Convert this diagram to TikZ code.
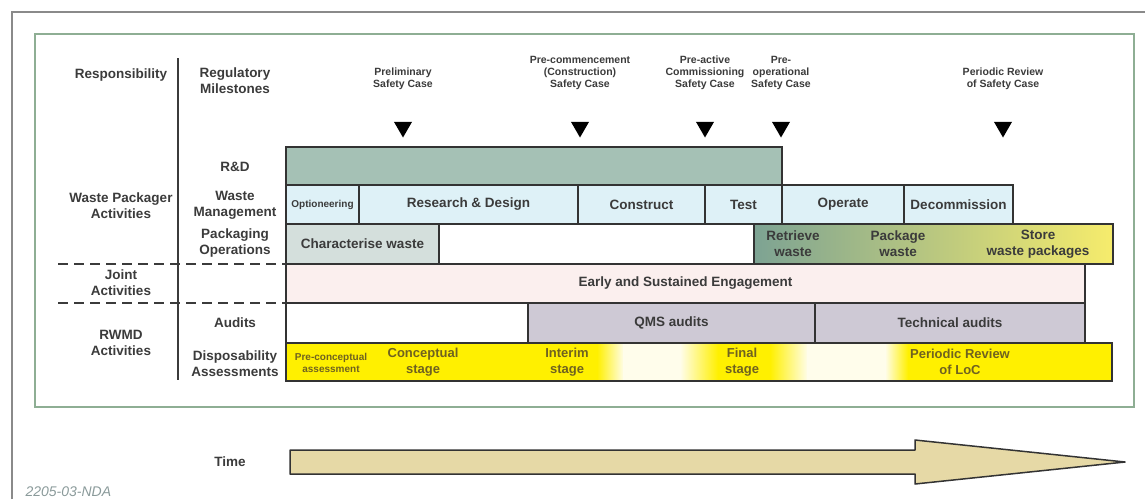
\documentclass[tikz,border=0pt]{standalone}
\usepackage{fontspec}
\setmainfont{Liberation Sans}
\usetikzlibrary{shapes.geometric}

\definecolor{ink}{HTML}{3B3B3B}
\definecolor{edge}{HTML}{333333}
\definecolor{rdgreen}{HTML}{A5C1B5}
\definecolor{mgmtblue}{HTML}{DEF1F7}
\definecolor{charfill}{HTML}{D4DFDC}
\definecolor{retrgreen}{HTML}{7DA393}
\definecolor{packgreen}{HTML}{BDCB8D}
\definecolor{storeyellow}{HTML}{F6EC6C}
\definecolor{jointpink}{HTML}{FBEFEE}
\definecolor{qmsgray}{HTML}{CEC9D5}
\definecolor{dispyellow}{HTML}{FFF000}
\definecolor{cream}{HTML}{FFFDEB}
\definecolor{stagebrown}{HTML}{6F6220}
\definecolor{arrowtan}{HTML}{E6D9A6}
\definecolor{framegreen}{HTML}{8EAE94}
\definecolor{framegray}{HTML}{8A8A8A}
\definecolor{codegray}{HTML}{8A9A9A}

\begin{document}
\begin{tikzpicture}[x=1pt,y=-1pt,
  lbl/.style={font=\fontsize{13.5}{16}\selectfont\bfseries,text=ink,align=center},
  milestone/.style={font=\fontsize{10.5}{12}\selectfont\bfseries,text=ink,align=center,anchor=south},
  marker/.style={regular polygon,regular polygon sides=3,shape border rotate=180,fill=black,inner sep=0pt,minimum size=21pt},
  bar/.style={draw=edge,line width=1.4pt,inner sep=0pt,outer sep=0pt,anchor=north west,align=center,
    font=\fontsize{13.5}{16}\selectfont\bfseries,text=ink},
  stage/.style={font=\fontsize{13}{16}\selectfont\bfseries,text=stagebrown,align=center},
  split/.style={draw=ink,line width=1.5pt,dash pattern=on 10pt off 6pt}]
\useasboundingbox (0,0) rectangle (1145,499);

% frames
\draw[framegray,line width=2pt] (12,499) -- (12,12) -- (1145,12);
\draw[framegreen,line width=2pt] (35,34) rectangle (1134,407);

% column headings
\node[lbl] (resp) at (121,75) {Responsibility};
\node[lbl] (regms) at (235,81) {Regulatory\\Milestones};
\coordinate (divtop) at (178,58);
\coordinate (divbot) at (178,380);
\draw[ink,line width=1.5pt] (divtop) -- (divbot);

% milestones
\foreach \nm/\xx/\txt in {prelim/403/Preliminary\\Safety Case,
    precom/580/Pre-commencement\\(Construction)\\Safety Case,
    preact/705/Pre-active\\Commissioning\\Safety Case,
    preop/781/Pre-\\operational\\Safety Case,
    review/1003/Periodic Review\\of Safety Case}
  { \node[milestone] (\nm) at (\xx,93) {\txt};
    \node[marker] (\nm-tri) at (\xx,127) {}; }

% waste packager rows
\node[lbl] (wpact) at (121,206) {Waste Packager\\Activities};
\node[lbl] (rdlbl) at (235,167) {R\&D};
\node[lbl] (wmlbl) at (235,205) {Waste\\Management};
\node[lbl] (polbl) at (235,243) {Packaging\\Operations};

\node[bar,fill=rdgreen,minimum width=496pt,minimum height=38pt] (rd) at (286,147) {};

\foreach \nm/\xa/\xb/\txt in {opt/286/359/{\fontsize{10}{12}\selectfont Optioneering},
    resdes/359/578/Research \& Design, constr/578/705/Construct, test/705/782/Test,
    operate/782/904/Operate, decom/904/1013/Decommission}
  { \node[bar,fill=mgmtblue,minimum width={(\xb-\xa)*1pt},minimum height=39pt] (\nm) at (\xa,185) {\txt}; }

\node[bar,fill=charfill,minimum width=153pt,minimum height=40pt] (charw) at (286,224) {Characterise waste};
\node[bar,fill=white,minimum width=315pt,minimum height=40pt] (pogap) at (439,224) {};
\node[bar,left color=retrgreen,middle color=packgreen,right color=storeyellow,
  minimum width=359pt,minimum height=40pt] (pack) at (754,224) {};
\node[lbl] (retr) at (793,244) {Retrieve\\waste};
\node[lbl] (pkgw) at (898,244) {Package\\waste};
\node[lbl] (store) at (1038,244) {Store\\waste packages};

% joint activities
\node[lbl] (joint) at (121,283) {Joint\\Activities};
\node[bar,fill=jointpink,minimum width=799pt,minimum height=39pt] (engage) at (286,264) {Early and Sustained Engagement};
\coordinate (sepA) at (58,264);
\coordinate (sepB) at (58,303);
\draw[split] (sepA) -- (engage.north west);
\draw[split] (sepB) -- (engage.south west);

% RWMD rows
\node[lbl] (rwmd) at (121,343) {RWMD\\Activities};
\node[lbl] (audlbl) at (235,323) {Audits};
\node[lbl] (displbl) at (235,364) {Disposability\\Assessments};

\foreach \nm/\xa/\xb/\fl/\txt in {audgap/286/528/white/{}, qms/528/815/qmsgray/QMS audits,
    tech/815/1085/qmsgray/Technical audits}
  { \node[bar,fill=\fl,minimum width={(\xb-\xa)*1pt},minimum height=40pt] (\nm) at (\xa,303) {\txt}; }

\node[bar,fill=dispyellow,minimum width=826pt,minimum height=38pt] (disp) at (286,343) {};
% faded stretches between the stages
\shade[left color=dispyellow,right color=cream] (597,344) rectangle (624,380);
\fill[cream] (623,344) rectangle (681,380);
\shade[left color=cream,right color=dispyellow] (680,344) rectangle (718,380);
\shade[left color=dispyellow,right color=cream] (770,344) rectangle (808,380);
\fill[cream] (807,344) rectangle (886,380);
\shade[left color=cream,right color=dispyellow] (885,344) rectangle (908,380);
\draw[edge,line width=1.4pt] (disp.north west) rectangle (disp.south east);
\node[stage,font=\fontsize{10}{11.5}\selectfont\bfseries] (precon) at (331,363) {Pre-conceptual\\assessment};
\node[stage] (concept) at (423,362) {Conceptual\\stage};
\node[stage] (interim) at (567,362) {Interim\\stage};
\node[stage] (final) at (742,362) {Final\\stage};
\node[stage] (loc) at (960,362) {Periodic Review\\of LoC};

% time arrow
\node[lbl] (time) at (230,462) {Time};
\draw[edge,fill=arrowtan,line width=1.5pt,line join=round]
  (290,450) -- (915,450) -- (915,440) -- (1125,462) -- (915,484) -- (915,474) -- (290,474) -- cycle;

\node[font=\fontsize{14}{16}\selectfont\itshape,text=codegray,anchor=base west] (code) at (22,496) {2205-03-NDA};
\end{tikzpicture}
\end{document}
